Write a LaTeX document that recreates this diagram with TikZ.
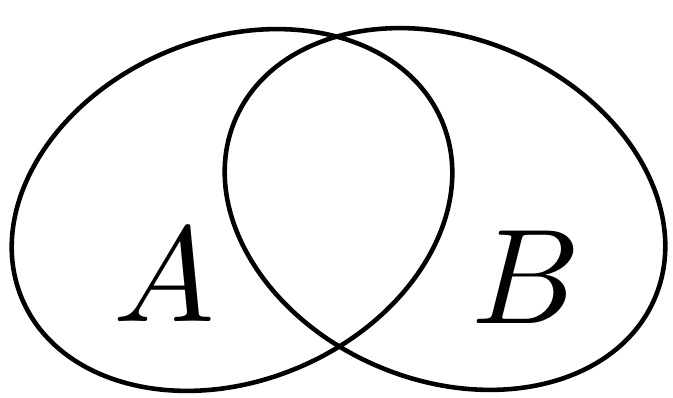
\documentclass[tikz,border=0pt]{standalone}
\usepackage{amsmath}
\usepackage{tikz}

\begin{document}
\begin{tikzpicture}[x=0.02cm,y=0.02cm,
    setline/.style={line width=2.6pt},
    setlabel/.style={scale=7.7}]
    \useasboundingbox (0,0) rectangle (673,398);

    % Sets
    \coordinate (cA) at (232,188);
    \coordinate (cB) at (445,189);
    \draw[setline,rotate around={23:(cA)}] (cA) ellipse [x radius=228, y radius=171];
    \draw[setline,rotate around={-23:(cB)}] (cB) ellipse [x radius=228, y radius=171];

    % Labels
    \node[setlabel] (labA) at (164,123) {$A$};
    \node[setlabel] (labB) at (526,121) {$B$};
\end{tikzpicture}
\end{document}
